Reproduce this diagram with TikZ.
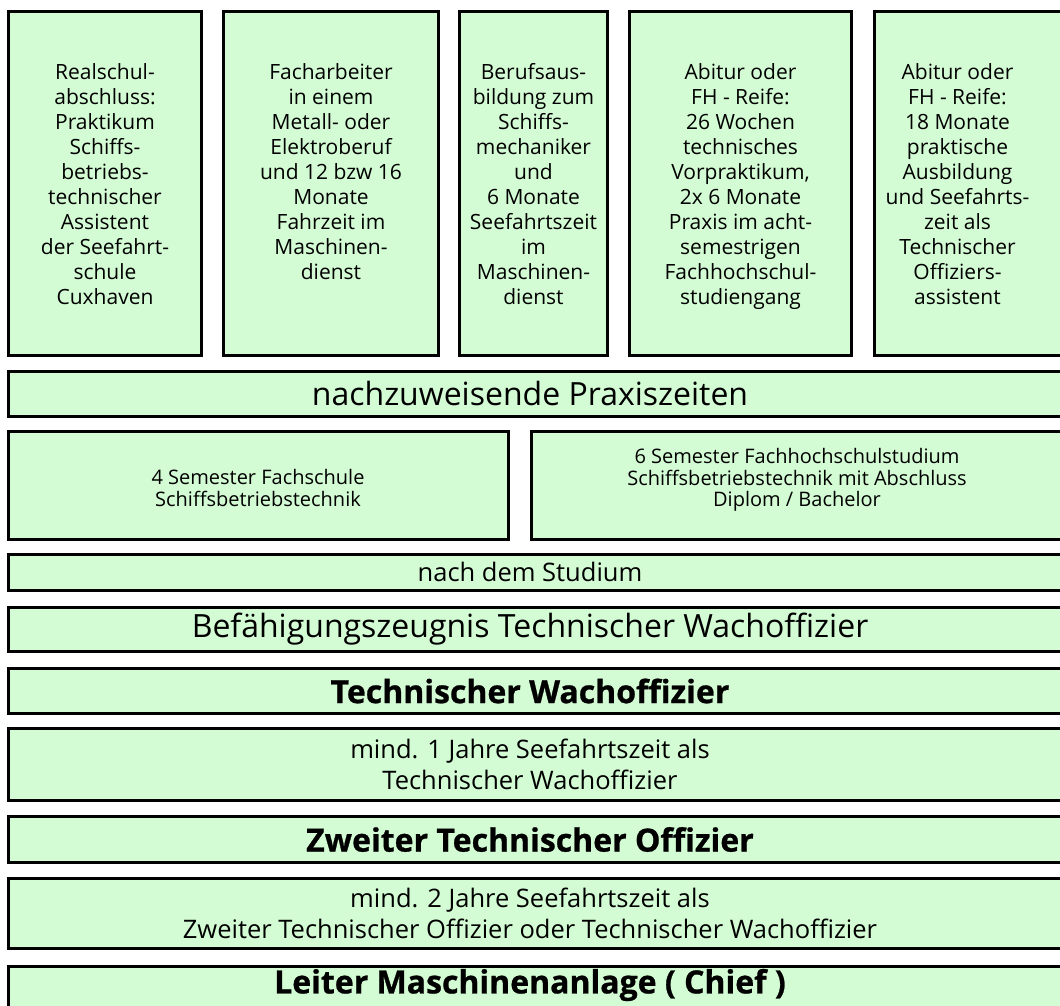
\documentclass[tikz,border=0pt]{standalone}
\usepackage{fontspec}
\setmainfont{Open Sans}[BoldFeatures={FakeBold=0.8}]
\usetikzlibrary{positioning}

\definecolor{boxgreen}{RGB}{212,252,212}

\tikzset{
  box/.style={draw=black, line width=3pt, fill=boxgreen, inner sep=0pt},
  toptext/.style={align=center, inner sep=0pt, font=\fontsize{21}{25}\selectfont},
  studytext/.style={align=center, inner sep=0pt, font=\fontsize{20}{21.5}\selectfont},
  rowtext/.style={align=center, inner sep=0pt, font=\fontsize{25.5}{31}\selectfont},
  bigtext/.style={align=center, inner sep=0pt, font=\fontsize{32}{34}\selectfont},
  ranktext/.style={align=center, inner sep=0pt, font=\fontsize{32}{34}\bfseries},
}

\begin{document}
\begin{tikzpicture}[x=1pt, y=-1pt]
      \useasboundingbox (0,0) rectangle (1060,1005);
      \clip (0,0) rectangle (1060,1005);

      % Entry paths, top row
      \node[box, minimum width=193, minimum height=344] (t1) at (105,183.5) {};
      \node[box, minimum width=215, minimum height=344] (t2) at (331,183.5) {};
      \node[box, minimum width=148, minimum height=344] (t3) at (533.5,183.5) {};
      \node[box, minimum width=222, minimum height=344] (t4) at (740.5,183.5) {};
      \node[box, minimum width=204, minimum height=344] (t5) at (976.5,183.5) {};

      \node[toptext, below=53pt of t1.north] (t1-txt) {Realschul-\\abschluss:\\Praktikum\\Schiffs-\\betriebs-\\technischer\\Assistent\\der Seefahrt-\\schule\\Cuxhaven};
      \node[toptext, below=53pt of t2.north] (t2-txt) {Facharbeiter\\in einem\\Metall- oder\\Elektroberuf\\und 12 bzw 16\\Monate\\Fahrzeit im\\Maschinen-\\dienst};
      \node[toptext, below=53pt of t3.north] (t3-txt) {Berufsaus-\\bildung zum\\Schiffs-\\mechaniker\\und\\6 Monate\\Seefahrtszeit\\im\\Maschinen-\\dienst};
      \node[toptext, below=53pt of t4.north] (t4-txt) {Abitur oder\\FH - Reife:\\26 Wochen\\technisches\\Vorpraktikum,\\2x 6 Monate\\Praxis im acht-\\semestrigen\\Fachhochschul-\\studiengang};
      \node[toptext, below=53pt of t5.north, xshift=-19pt] (t5-txt) {Abitur oder\\FH - Reife:\\18 Monate\\praktische\\Ausbildung\\und Seefahrts-\\zeit als\\Technischer\\Offiziers-\\assistent};

      % Practice time bar
      \node[box, minimum width=1070, minimum height=45] (praxis) at (543.5,394) {};
      \node[bigtext] (praxis-txt) at (530,393) {nachzuweisende Praxiszeiten};

      % The two study routes
      \node[box, minimum width=500, minimum height=108] (fs) at (258.5,485.5) {};
      \node[box, minimum width=547, minimum height=108] (fh) at (805,485.5) {};
      \node[studytext] (fs-txt) at (258,488) {4 Semester Fachschule\\Schiffsbetriebstechnik};
      \node[studytext] (fh-txt) at (797,480) {6 Semester Fachhochschulstudium\\Schiffsbetriebstechnik mit Abschluss\\Diplom / Bachelor};

      % Career ladder
      \node[box, minimum width=1070, minimum height=36] (nach) at (543.5,572.5) {};
      \node[rowtext] (nach-txt) at (530,572) {nach dem Studium};

      \node[box, minimum width=1070, minimum height=44] (bef) at (543.5,629.5) {};
      \node[bigtext] (bef-txt) at (530,629) {Befähigungszeugnis Technischer Wachoffizier};

      \node[box, minimum width=1070, minimum height=45] (two) at (543.5,691) {};
      \node[ranktext] (two-txt) at (530,691) {Technischer Wachoffizier};

      \node[box, minimum width=1070, minimum height=72] (sea1) at (543.5,764.5) {};
      \node[rowtext] (sea1-txt) at (530,764.5) {mind. 1 Jahre Seefahrtszeit als\\Technischer Wachoffizier};

      \node[box, minimum width=1070, minimum height=46] (zto) at (543.5,839.5) {};
      \node[ranktext] (zto-txt) at (530,839.5) {Zweiter Technischer Offizier};

      \node[box, minimum width=1070, minimum height=70] (sea2) at (543.5,913.5) {};
      \node[rowtext] (sea2-txt) at (530,913.5) {mind. 2 Jahre Seefahrtszeit als\\Zweiter Technischer Offizier oder Technischer Wachoffizier};

      \node[box, minimum width=1070, minimum height=62] (chief) at (543.5,997.5) {};
      \node[ranktext] (chief-txt) at (530,985) {Leiter Maschinenanlage ( Chief )};
    \end{tikzpicture}
\end{document}
